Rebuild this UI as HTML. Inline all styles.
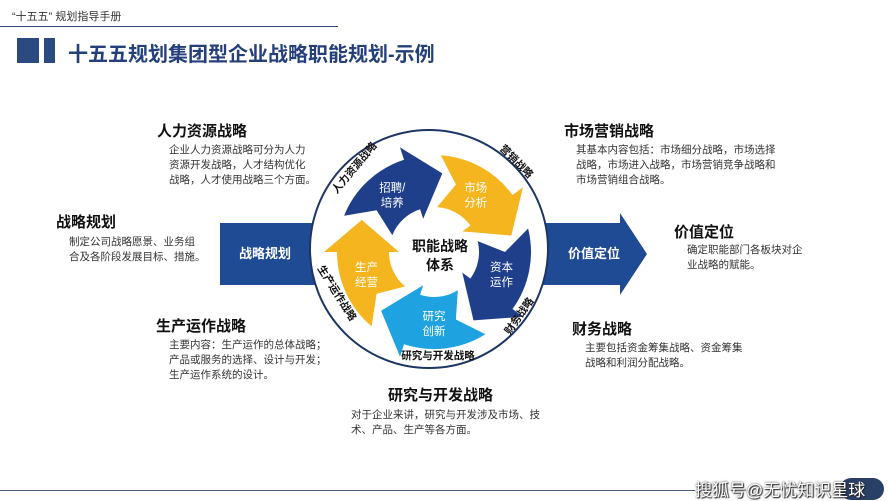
<!DOCTYPE html>
<html><head><meta charset="utf-8"><style>
body{margin:0;width:889px;height:500px;overflow:hidden;background:#fff;font-family:"Liberation Sans","Noto Sans CJK SC",sans-serif;position:relative;color:#222}
.a{position:absolute;white-space:nowrap}
h3{position:absolute;margin:0;font-size:15px;font-weight:bold;color:#111;white-space:nowrap}
.p{position:absolute;font-size:10.5px;line-height:15px;color:#333;white-space:nowrap}
</style></head><body>
<div class="a" style="left:12px;top:8px;font-size:11px;color:#333">“十五五” 规划指导手册</div>
<div class="a" style="left:0;top:26px;width:338px;height:1px;background:#3a4a7a"></div>
<div class="a" style="left:17px;top:38px;width:22px;height:25px;background:#2a4a80"></div>
<div class="a" style="left:44px;top:38px;width:11px;height:25px;background:#2a4a80"></div>
<div class="a" style="left:68px;top:38px;font-size:20px;font-weight:bold;color:#243f7a">十五五规划集团型企业战略职能规划-示例</div>

<h3 style="left:157px;top:120px">人力资源战略</h3>
<div class="p" style="left:169px;top:143px">企业人力资源战略可分为人力<br>资源开发战略，人才结构优化<br>战略，人才使用战略三个方面。</div>
<h3 style="left:56px;top:211px">战略规划</h3>
<div class="p" style="left:69px;top:235px">制定公司战略愿景、业务组<br>合及各阶段发展目标、措施。</div>
<h3 style="left:156px;top:315px">生产运作战略</h3>
<div class="p" style="left:169px;top:338px">主要内容：生产运作的总体战略；<br>产品或服务的选择、设计与开发；<br>生产运作系统的设计。</div>
<h3 style="left:564px;top:120px">市场营销战略</h3>
<div class="p" style="left:576px;top:143px">其基本内容包括：市场细分战略，市场选择<br>战略，市场进入战略，市场营销竞争战略和<br>市场营销组合战略。</div>
<h3 style="left:674px;top:221px">价值定位</h3>
<div class="p" style="left:687px;top:243px">确定职能部门各板块对企<br>业战略的赋能。</div>
<h3 style="left:572px;top:318px">财务战略</h3>
<div class="p" style="left:585px;top:341px">主要包括资金筹集战略、资金筹集<br>战略和利润分配战略。</div>
<h3 style="left:388px;top:384px">研究与开发战略</h3>
<div class="p" style="left:351px;top:408px">对于企业来讲，研究与开发涉及市场、技<br>术、产品、生产等各方面。</div>

<div class="a" style="left:0;top:490px;width:695px;height:1px;background:#4a5a7a"></div>
<div class="a" style="left:840px;top:478px;width:44px;height:22px;border-radius:11px;background:#2a3f66"></div>
<div class="a" style="left:695px;top:476px;font-size:17px;color:#fff;text-shadow:0 0 2px #222,1px 1px 1px #222">搜狐号@无忧知识星球</div>

<svg id="s" width="889" height="500" style="position:absolute;left:0;top:0">
<rect x="220" y="223" width="100" height="62" fill="#1f4b94"/>
<path d="M540 223 H620 V213 L647 254 L620 295 V285 H540Z" fill="#1f4b94"/>
<circle cx="429" cy="249" r="119" fill="#fff" stroke="#1d3565" stroke-width="2"/>
<g id="g"></g>
<text x="265" y="258" fill="#fff" font-size="13" font-weight="bold" text-anchor="middle">战略规划</text>
<text x="594" y="258" fill="#fff" font-size="13" font-weight="bold" text-anchor="middle">价值定位</text>
<text x="440" y="251" font-size="14" font-weight="bold" text-anchor="middle" fill="#111">职能战略</text>
<text x="440" y="270" font-size="14" font-weight="bold" text-anchor="middle" fill="#111">体系</text>
<text x="438" y="359" font-size="10.5" font-weight="bold" text-anchor="middle" fill="#111">研究与开发战略</text>
<text font-size="10.5" font-weight="bold" fill="#111" text-anchor="middle" transform="translate(357,170) rotate(-50)">人力资源战略</text>
<text font-size="10.5" font-weight="bold" fill="#111" text-anchor="middle" transform="translate(514,164) rotate(45)">营销战略</text>
<text font-size="10.5" font-weight="bold" fill="#111" text-anchor="middle" transform="translate(522,318) rotate(-55)">财务战略</text>
<text font-size="10.5" font-weight="bold" fill="#111" text-anchor="middle" transform="translate(334,295) rotate(58)">生产运作战略</text>
</svg>
<script>
var cx=434,cy=252,g=document.getElementById('g');
function P(r,a){a=a*Math.PI/180;return (cx+r*Math.cos(a)).toFixed(1)+' '+(cy+r*Math.sin(a)).toFixed(1);}
var arr=[[202,'#1f3f8a',['招聘/','培养']],[274,'#f5b51e',['市场','分析']],[346,'#1f3f8a',['资本','运作']],[58,'#1ea2e0',['研究','创新']],[130,'#f5b51e',['生产','经营']]];
var r1=45,r2=97,h='';
arr.forEach(function(o){var a=o[0],b=a+50,t=a+74,m=(r1+r2)/2;
var d='M'+P(r2,a)+' A'+r2+' '+r2+' 0 0 1 '+P(r2,b)+' L'+P(r2+13,b)+' L'+P(m+8,t)+' L'+P(r1-10,b)+' L'+P(r1,b)+' A'+r1+' '+r1+' 0 0 0 '+P(r1,a)+' L'+P(m,a+14)+'Z';
h+='<path d="'+d+'" fill="'+o[1]+'"/>';
var c=P(m,a+32).split(' ');
h+='<text x="'+c[0]+'" y="'+(c[1]-3)+'" fill="#fff" font-size="11.5" text-anchor="middle">'+o[2][0]+'</text><text x="'+c[0]+'" y="'+(+c[1]+12)+'" fill="#fff" font-size="11.5" text-anchor="middle">'+o[2][1]+'</text>';});
g.innerHTML=h;
</script>
</body></html>
